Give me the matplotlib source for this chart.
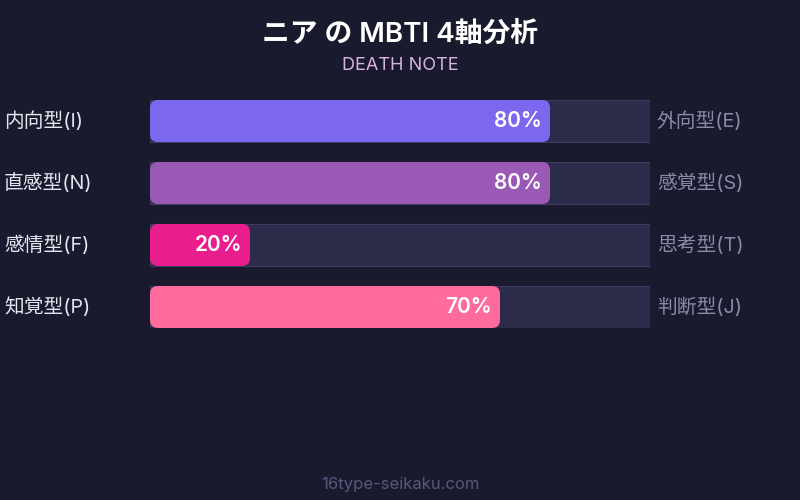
import matplotlib.pyplot as plt
from matplotlib.patches import FancyBboxPatch

plt.rcParams['font.family'] = ['Inter', 'Noto Sans CJK JP', 'DejaVu Sans']

# data
left_labels = ['内向型(I)', '直感型(N)', '感情型(F)', '知覚型(P)']
right_labels = ['外向型(E)', '感覚型(S)', '思考型(T)', '判断型(J)']
values = [80, 80, 20, 70]
colors = ['#7b68ee', '#9b59b6', '#e91e8c', '#ff6b9d']

title = 'ニア の MBTI 4軸分析'
subtitle = 'DEATH NOTE'
footer = '16type-seikaku.com'

bg = '#1a1a2e'
track = '#2d2b4a'
track_edge = '#3e3c60'

W, H = 800, 500
fig = plt.figure(figsize=(8, 5), dpi=100)
fig.patch.set_facecolor(bg)

# bar area: x 150..650 px, y 100..328 px
bar_h = 42 / 62
ax = fig.add_axes([150 / W, (H - 328) / H, 500 / W, 228 / H])
ax.set_xlim(0, 100)
ax.set_ylim(len(values) - 1 + bar_h / 2, -bar_h / 2)
ax.axis('off')

px_x = 100 / 500      # x units per pixel
px_y = 1 / 62         # y units per pixel
aspect = px_y / px_x
radius = 8 * px_x

for i, (v, c) in enumerate(zip(values, colors)):
    ax.barh(i, 100, height=bar_h, color=track, edgecolor=track_edge, linewidth=0.8)
    box = FancyBboxPatch((0, i - bar_h / 2), v, bar_h,
                         boxstyle=f'round,pad=0,rounding_size={radius}',
                         mutation_aspect=aspect, facecolor=c, edgecolor='none', zorder=3)
    ax.add_patch(box)
    ax.text(v - 8 * px_x, i, f'{v}%', color='white', fontsize=15, fontweight='semibold',
            ha='right', va='center', zorder=4)
    ax.text(-146 * px_x, i, left_labels[i], color='#e6e6f0', fontsize=14.2,
            ha='left', va='center', clip_on=False)
    ax.text(100 + 7 * px_x, i, right_labels[i], color='#8a8aa6', fontsize=14.2,
            ha='left', va='center', clip_on=False)

fig.text(0.5, 1 - 35 / H, title, color='white', fontsize=20, fontweight='semibold',
         ha='center', va='center')
fig.text(0.5, 1 - 65 / H, subtitle, color='#d8b4e2', fontsize=13,
         ha='center', va='center')
fig.text(0.5, 1 - 484 / H, footer, color='#55587a', fontsize=12,
         ha='center', va='center')

fig.savefig('out.png', dpi=100, facecolor=bg)
